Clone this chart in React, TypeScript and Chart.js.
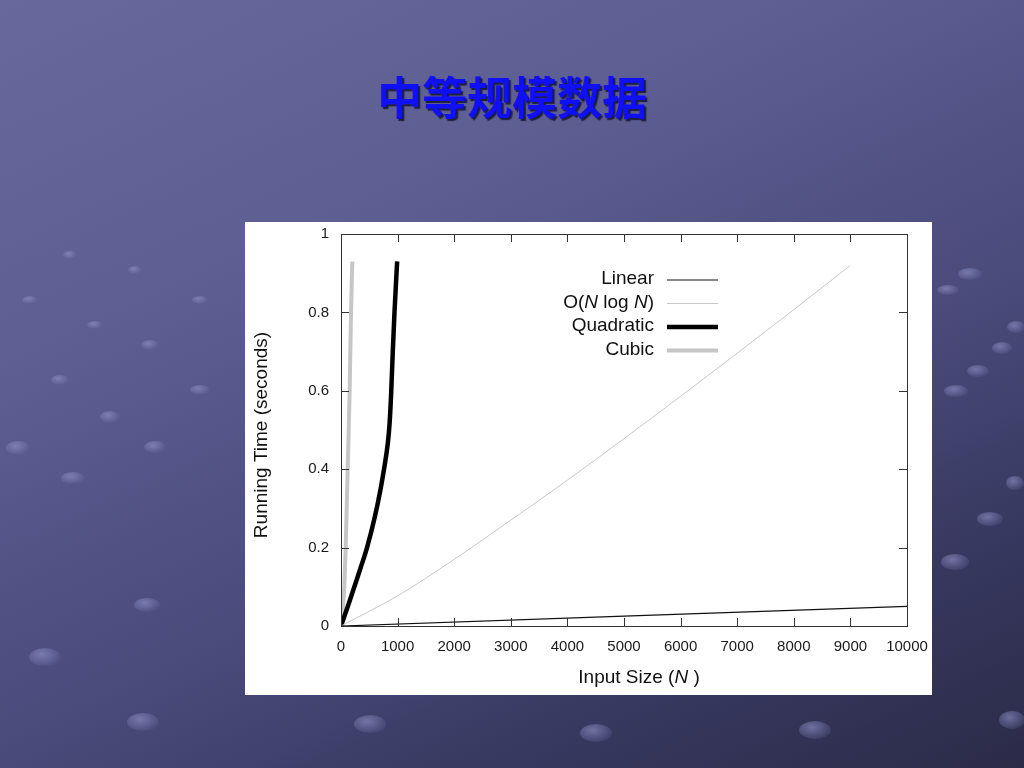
import React, { useEffect, useRef } from "react";
import { Chart, registerables } from "chart.js";
Chart.register(...registerables);

const titleText = "中等规模数据";
const xAxisTitle = "Input Size (N )";
const yAxisTitle = "Running Time (seconds)";

const xTickValues = [0, 1000, 2000, 3000, 4000, 5000, 6000, 7000, 8000, 9000, 10000];
const yTickValues = [0, 0.2, 0.4, 0.6, 0.8, 1];

const seriesNames = ["Linear", "O(N log N)", "Quadratic", "Cubic"];

const linearN = [0, 10000];
const linearT = [0, 0.05];

const nlognN = [0, 1000, 2000, 3000, 4000, 5000, 6000, 7000, 8000, 9000];
const nlognT = [0, 0.077, 0.17, 0.27, 0.372, 0.478, 0.586, 0.696, 0.807, 0.92];

const quadN = [0, 120, 236, 350, 460, 600, 700, 760, 830, 860, 888, 915, 945, 992];
const quadT = [0, 0.05, 0.1, 0.15, 0.2, 0.28, 0.35, 0.4, 0.47, 0.52, 0.6, 0.7, 0.8, 0.93];

const cubicN = [0, 30, 58, 83, 118, 153, 177, 200];
const cubicT = [0, 0.04, 0.1, 0.2, 0.4, 0.6, 0.8, 0.93];

const seriesColors = ["#111111", "#c8c8c8", "#000000", "#c6c6c6"];
const seriesWidths = [1.2, 1, 4.5, 4];

// decorative background spheres (not chart data)
const bgDots = [
  [970, 274, 12, 6], [948, 290, 11, 5], [1016, 327, 9, 6], [1002, 348, 10, 6],
  [978, 371, 11, 6], [956, 391, 12, 6], [1015, 483, 9, 7], [990, 519, 13, 7],
  [955, 562, 14, 8], [1012, 720, 13, 9], [815, 730, 16, 9], [596, 733, 16, 9],
  [370, 724, 16, 9], [143, 722, 16, 9], [45, 657, 16, 9], [147, 605, 13, 7],
  [18, 448, 12, 7], [73, 478, 12, 6], [110, 417, 10, 6], [155, 447, 11, 6],
  [200, 390, 10, 5], [60, 380, 9, 5], [150, 345, 9, 5], [95, 325, 8, 4],
  [30, 300, 8, 4], [200, 300, 8, 4], [135, 270, 7, 4], [70, 255, 7, 4],
];

const FONT = "'Liberation Sans', Arial, Helvetica, sans-serif";

function segs(text: string) {
  return text.split(/(\bN\b)/).filter((s) => s.length > 0).map((s) => ({ t: s, it: s === "N" }));
}

function drawRich(ctx: CanvasRenderingContext2D, text: string, x: number, y: number, size: number, align: "left" | "right" | "center") {
  const parts = segs(text);
  const widths = parts.map((p) => {
    ctx.font = `${p.it ? "italic " : ""}${size}px ${FONT}`;
    return ctx.measureText(p.t).width;
  });
  const total = widths.reduce((a, b) => a + b, 0);
  let cx = align === "left" ? x : align === "right" ? x - total : x - total / 2;
  ctx.textAlign = "left";
  ctx.textBaseline = "middle";
  parts.forEach((p, i) => {
    ctx.font = `${p.it ? "italic " : ""}${size}px ${FONT}`;
    ctx.fillText(p.t, cx, y);
    cx += widths[i];
  });
}

const framePlugin = {
  id: "framePlugin",
  afterDraw(chart: any) {
    const { ctx, chartArea } = chart;
    const { left, right, top, bottom } = chartArea;
    const xs = chart.scales.x;
    const ys = chart.scales.y;
    ctx.save();
    ctx.strokeStyle = "#333333";
    ctx.lineWidth = 1;
    ctx.strokeRect(Math.round(left) + 0.5, Math.round(top) + 0.5, Math.round(right - left), Math.round(bottom - top));
    const tl = 8;
    ctx.beginPath();
    xTickValues.forEach((v) => {
      const px = Math.round(xs.getPixelForValue(v)) + 0.5;
      ctx.moveTo(px, bottom);
      ctx.lineTo(px, bottom - tl);
      ctx.moveTo(px, top);
      ctx.lineTo(px, top + tl);
    });
    yTickValues.forEach((v) => {
      const py = Math.round(ys.getPixelForValue(v)) + 0.5;
      ctx.moveTo(left, py);
      ctx.lineTo(left + tl, py);
      ctx.moveTo(right, py);
      ctx.lineTo(right - tl, py);
    });
    ctx.stroke();

    // axis titles
    ctx.fillStyle = "#111111";
    drawRich(ctx, xAxisTitle, (left + right) / 2 + 15, bottom + 52, 19, "center");
    ctx.save();
    ctx.translate(left - 79, (top + bottom) / 2 + 5);
    ctx.rotate(-Math.PI / 2);
    drawRich(ctx, yAxisTitle, 0, 0, 19, "center");
    ctx.restore();

    // legend
    const textRight = right - 253;
    const lineStart = right - 240;
    const rowY = top + 45;
    chart.data.datasets.forEach((ds: any, i: number) => {
      const y = rowY + i * 23.5;
      ctx.fillStyle = "#111111";
      drawRich(ctx, seriesNames[i], textRight, y, 19, "right");
      ctx.beginPath();
      ctx.strokeStyle = ds.borderColor;
      ctx.lineWidth = ds.borderWidth;
      ctx.moveTo(lineStart, y + 1);
      ctx.lineTo(lineStart + 51, y + 1);
      ctx.stroke();
    });
    ctx.restore();
  },
};

function ChartPanel() {
  const ref = useRef<HTMLCanvasElement | null>(null);
  useEffect(() => {
    if (!ref.current) return;
    const mk = (ns: number[], ts: number[]) => ns.map((n, i) => ({ x: n, y: ts[i] }));
    const datasets = [
      mk(linearN, linearT),
      mk(nlognN, nlognT),
      mk(quadN, quadT),
      mk(cubicN, cubicT),
    ].map((d, i) => ({
      label: seriesNames[i],
      data: d,
      borderColor: seriesColors[i],
      backgroundColor: seriesColors[i],
      borderWidth: seriesWidths[i],
      pointRadius: 0,
      fill: false,
      cubicInterpolationMode: "monotone" as const,
    }));
    const chart = new Chart(ref.current, {
      type: "line",
      data: { datasets },
      options: {
        animation: false,
        responsive: false,
        devicePixelRatio: 1,
        layout: { padding: { top: 12, right: 25, left: 0, bottom: 0 } },
        plugins: { legend: { display: false }, tooltip: { enabled: false }, title: { display: false } },
        scales: {
          x: {
            type: "linear",
            min: 0,
            max: 10000,
            afterBuildTicks: (s: any) => { s.ticks = xTickValues.map((v) => ({ value: v })); },
            afterFit: (s: any) => {
              s.height = 69;
              s.paddingLeft = 0;
              s.paddingRight = 0;
              s.paddingTop = 0;
              s.paddingBottom = 0;
            },
            grid: { display: false, drawTicks: false },
            border: { display: false },
            ticks: {
              padding: 12,
              color: "#1a1a1a",
              font: { family: FONT, size: 15 },
              maxRotation: 0,
              autoSkip: false,
              callback: (v: any) => String(v),
            },
          },
          y: {
            type: "linear",
            min: 0,
            max: 1,
            afterBuildTicks: (s: any) => { s.ticks = yTickValues.map((v) => ({ value: v })); },
            afterFit: (s: any) => {
              s.width = 96;
              s.paddingLeft = 0;
              s.paddingRight = 0;
              s.paddingTop = 0;
              s.paddingBottom = 0;
            },
            grid: { display: false, drawTicks: false },
            border: { display: false },
            ticks: {
              padding: 12,
              color: "#1a1a1a",
              font: { family: FONT, size: 15 },
              autoSkip: false,
              callback: (v: any) => String(Math.round(v * 10) / 10),
            },
          },
        },
      },
      plugins: [framePlugin],
    });
    return () => chart.destroy();
  }, []);
  return <canvas ref={ref} width={687} height={473} style={{ display: "block", width: 687, height: 473 }} />;
}

export default function App() {
  return (
    <div
      style={{
        position: "fixed",
        left: 0,
        top: 0,
        width: 1024,
        height: 768,
        overflow: "hidden",
        background: "linear-gradient(155deg, #67689b 0%, #5d5e92 30%, #4a4b7b 60%, #36375d 82%, #2b2b48 100%)",
      }}
    >
      {bgDots.map(([x, y, rx, ry], i) => (
        <div
          key={i}
          style={{
            position: "absolute",
            left: x - rx,
            top: y - ry,
            width: rx * 2,
            height: ry * 2,
            borderRadius: "50%",
            background: "radial-gradient(ellipse at 40% 35%, rgba(150,152,205,0.6), rgba(95,97,150,0.3) 70%, rgba(80,80,130,0) 100%)",
          }}
        />
      ))}
      <div
        style={{
          position: "absolute",
          left: 0,
          top: 70,
          width: 1024,
          textAlign: "center",
          fontFamily: "'Noto Sans CJK SC', sans-serif",
          fontWeight: 700,
          fontSize: 45,
          lineHeight: "52px",
          color: "#1010f4",
          textShadow: "2px 2px 1px #1e1e3c",
        }}
      >
        {titleText}
      </div>
      <div
        style={{
          position: "absolute",
          left: 245,
          top: 222,
          width: 687,
          height: 473,
          background: "#ffffff",
        }}
      >
        <ChartPanel />
      </div>
    </div>
  );
}
